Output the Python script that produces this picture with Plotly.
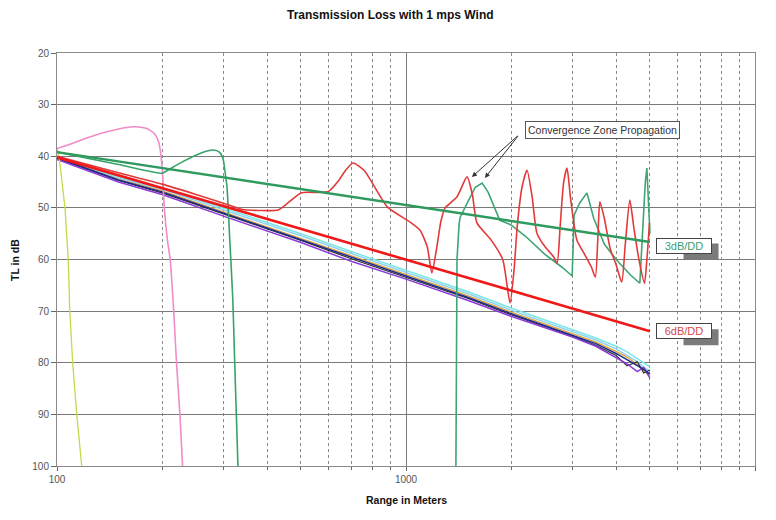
import plotly.graph_objects as go
import math

# ---------------- data ----------------
x_ticks = [100, 1000, 10000]
y_ticks = [20, 30, 40, 50, 60, 70, 80, 90, 100]
x_minor = [200, 300, 400, 500, 600, 700, 800, 900,
           2000, 3000, 4000, 5000, 6000, 7000, 8000, 9000]

# straight reference lines
dd3_x = [100, 5000]
dd3_y = [39.2, 56.6]
dd6_x = [100, 5000]
dd6_y = [40.2, 73.9]

# bundle of model runs (nearly straight, noisy at the far end)
bundle_x = [100, 150, 200, 300, 500, 700, 1000, 1500, 2000, 3000, 3500, 4000, 4300, 4600, 4800, 5000]
navy_y   = [40.3, 44.6, 46.9, 51.0, 56.1, 59.6, 63.2, 67.3, 70.5, 74.6, 76.3, 78.2, 79.4, 80.6, 81.3, 82.2]
purple_y = [40.6, 45.0, 47.4, 51.6, 56.7, 60.4, 63.8, 67.9, 71.0, 75.0, 76.8, 78.9, 80.2, 81.7, 80.9, 83.0]
cyan_y   = [40.0, 44.0, 46.1, 50.1, 55.0, 58.5, 62.1, 66.2, 69.4, 73.6, 75.2, 76.8, 77.9, 79.2, 80.0, 80.8]
lblue_y  = [40.1, 44.2, 46.4, 50.4, 55.4, 58.9, 62.5, 66.6, 69.8, 74.0, 75.6, 77.3, 78.6, 79.8, 80.9, 81.6]
black_y  = [40.4, 44.7, 47.1, 51.2, 56.3, 59.9, 63.4, 67.5, 70.7, 74.8, 76.6, 78.6, 80.6, 79.8, 82.0, 81.4]
orange_y = [40.2, 44.4, 46.7, 50.8, 55.9, 59.3, 62.9, 67.0, 70.2, 74.4, 76.0, 77.8, 78.9, 80.4, 81.5, 82.6]

# yellow-green run (drops immediately)
yel_x = [100, 101, 102, 103.5, 105.4, 107.7, 108.8, 110.9, 113.9, 117.7]
yel_y = [38.4, 39.5, 41.5, 45.0, 50.0, 60.0, 70.0, 80.0, 90.0, 100.0]

# pink run
pink_x = [100, 110, 120, 140, 165, 180, 190, 196, 200, 203, 207, 211, 216, 220, 225, 229]
pink_y = [38.5, 37.6, 36.6, 35.2, 34.3, 34.6, 35.6, 37.5, 42.0, 50.0, 56.0, 60.0, 70.0, 80.0, 90.0, 100.0]

# green run with early bounce
gA_x = [100, 150, 200, 204, 230, 260, 280, 292, 299, 303, 307, 312, 319, 323, 330]
gA_y = [39.2, 41.6, 43.3, 43.0, 41.0, 39.3, 38.8, 39.2, 40.5, 43.0, 46.0, 55.0, 67.8, 80.0, 100.0]

# red convergence-zone run
czr_x = [100, 150, 200, 250, 300, 340, 380, 430, 460, 500, 560, 600, 640, 670, 705, 760,
         884, 1025, 1096, 1150, 1186, 1223, 1260, 1295, 1399, 1496, 1550, 1597, 1752, 1893,
         1986, 2040, 2083, 2150, 2222, 2300, 2372, 2500, 2650, 2710, 2765, 2830, 2893, 2960,
         3087, 3250, 3400, 3487, 3550, 3593, 3700, 3850, 4000, 4150, 4250, 4378, 4500, 4650,
         4823, 4900, 4985]
czr_y = [40.0, 43.2, 45.4, 47.4, 49.1, 50.3, 50.5, 50.4, 49.0, 47.1, 47.0, 46.8, 44.8, 42.8, 41.3, 42.8,
         49.8, 52.7, 54.3, 57.5, 62.6, 58.0, 52.5, 50.0, 47.9, 44.0, 47.5, 52.9, 56.2, 60.0,
         68.4, 62.0, 53.6, 46.0, 42.7, 48.0, 54.9, 57.5, 59.5, 60.7, 53.6, 45.0, 42.3, 48.0,
         56.2, 59.0, 61.5, 63.4, 55.0, 48.8, 52.0, 58.0, 61.0, 64.4, 57.0, 48.5, 54.0, 60.0,
         64.6, 60.0, 52.9]

# green convergence-zone run
czg_x = [1390, 1395, 1400, 1420, 1430, 1500, 1580, 1653, 1720, 1857, 2000, 2200, 2500, 2800,
         2993, 3010, 3030, 3150, 3300, 3450, 3700, 4000, 4400, 4677, 4750, 4850, 4900, 4950, 5000]
czg_y = [100.0, 75.0, 60.0, 53.0, 51.8, 49.0, 46.0, 45.2, 47.0, 52.4, 53.3, 55.5, 59.0, 61.5,
         63.2, 58.0, 51.4, 49.0, 47.1, 52.0, 57.0, 60.0, 63.0, 64.6, 55.0, 45.0, 42.3, 50.0, 55.0]

# ---------------- figure ----------------
fig = go.Figure()

def add(x, y, color, width, shape="linear"):
    fig.add_trace(go.Scatter(x=x, y=y, mode="lines",
                             line=dict(color=color, width=width, shape=shape, smoothing=0.6),
                             hoverinfo="skip", showlegend=False))

add(bundle_x, orange_y, "#e0a030", 1.3)
add(bundle_x, lblue_y, "#8fd3f0", 1.5)
add(bundle_x, cyan_y, "#7ee6e6", 1.5)
add(bundle_x, black_y, "#303030", 1.2)
add(bundle_x, purple_y, "#8a3ad8", 1.5)
add(bundle_x, navy_y, "#1c2a8c", 1.5)
add(yel_x, yel_y, "#c8d84a", 1.3)
add(pink_x, pink_y, "#f08cc8", 1.6, "spline")
add(gA_x, gA_y, "#36a36a", 1.6, "spline")
add(czg_x, czg_y, "#3fa574", 1.6)
add(czr_x, czr_y, "#e23a3a", 1.6, "spline")
add(dd6_x, dd6_y, "#f01818", 2.6)
add(dd3_x, dd3_y, "#2f9a5e", 2.4)

L = math.log10
FONT = "Liberation Sans, Arial"
annotations = []
shapes = []
# convergence zone label + arrows
annotations.append(dict(x=L(3650), y=34.9, xref="x", yref="y", text="Convergence Zone Propagation",
                        showarrow=False, font=dict(family=FONT, size=10.5, color="#333"),
                        bgcolor="white", bordercolor="#555", borderwidth=1, borderpad=2))
for hx, hy in [(1545, 44.0), (1683, 44.2)]:
    annotations.append(dict(x=L(hx), y=hy, xref="x", yref="y", ax=L(2110), ay=35.8,
                            axref="x", ayref="y", text="", showarrow=True, arrowhead=2,
                            arrowsize=1, arrowwidth=1, arrowcolor="#333"))
# dB/DD boxes with drop shadows (shape coords on a log axis are data values)
box_xv = 6240
for txt, yv, col in [("3dB/DD", 57.3, "#3a9f73"), ("6dB/DD", 73.9, "#d84848")]:
    shapes.append(dict(type="rect", xref="x", yref="y", xsizemode="pixel", ysizemode="pixel",
                       xanchor=box_xv, yanchor=yv, x0=-22, x1=35, y0=-14, y1=2,
                       fillcolor="#7a7a7a", line=dict(width=0), layer="above"))
    annotations.append(dict(x=L(box_xv), y=yv, xref="x", yref="y", text=txt, showarrow=False,
                            width=52, height=12,
                            font=dict(family=FONT, size=11, color=col),
                            bgcolor="white", bordercolor="#444", borderwidth=1, borderpad=1))
# axis titles
annotations.append(dict(x=0.5, y=-0.082, xref="paper", yref="paper", text="<b>Range in Meters</b>",
                        showarrow=False, yanchor="middle",
                        font=dict(family=FONT, size=10.5, color="#111")))
annotations.append(dict(x=-0.060, y=0.499, xref="paper", yref="paper", text="<b>TL in dB</b>",
                        showarrow=False, textangle=-90, xanchor="center", yanchor="middle",
                        font=dict(family=FONT, size=10.5, color="#111")))

# the page body adds an 8px offset, so the figure is sized to fit inside it
fig.update_layout(
    width=760, height=504,
    margin=dict(l=49, r=13, t=45, b=46, autoexpand=False),
    paper_bgcolor="white", plot_bgcolor="white",
    title=dict(text="<b>Transmission Loss with 1 mps Wind</b>", x=0.503, xanchor="center",
               y=0.986, yanchor="middle",
               font=dict(family=FONT, size=12, color="#111")),
    font=dict(family=FONT, size=10, color="#555"),
    annotations=annotations,
    shapes=shapes,
    xaxis=dict(type="log", range=[2, 4], tickvals=x_ticks, ticktext=[str(v) for v in x_ticks],
               automargin=False,
               showgrid=True, gridcolor="#7a7a7a", gridwidth=1,
               showline=True, linecolor="#8a8a8a", linewidth=1, mirror=True,
               ticks="outside", ticklen=4, tickcolor="#666",
               tickfont=dict(size=10, color="#555"),
               minor=dict(tickvals=x_minor, showgrid=True, gridcolor="#8a8a8a", griddash="dot",
                          gridwidth=1, ticks="outside", ticklen=3, tickcolor="#666"),
               zeroline=False),
    yaxis=dict(range=[100, 20], tickvals=y_ticks, automargin=False,
               showgrid=True, gridcolor="#7a7a7a", gridwidth=1,
               showline=True, linecolor="#8a8a8a", linewidth=1, mirror=True,
               ticks="outside", ticklen=5, tickcolor="#666",
               tickfont=dict(size=10, color="#555"),
               zeroline=False),
)

fig.write_html("out.html")
